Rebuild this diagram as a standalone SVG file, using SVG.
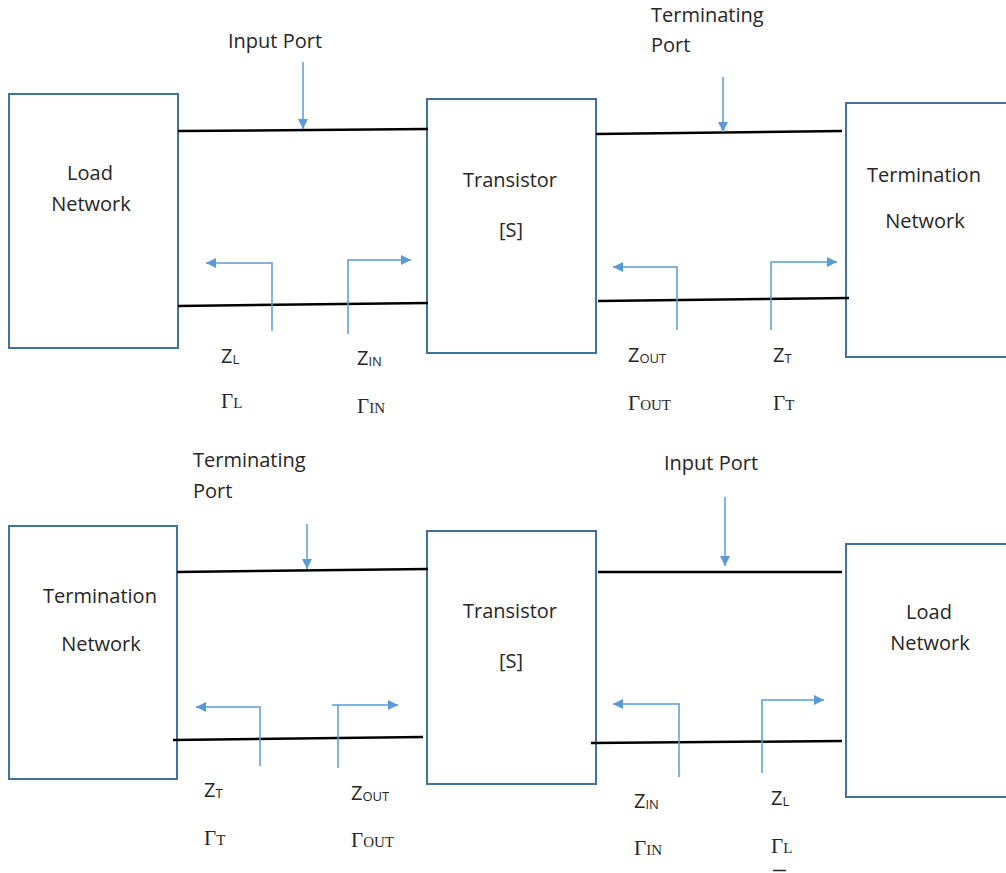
<svg xmlns="http://www.w3.org/2000/svg" width="1006" height="873" viewBox="0 0 1006 873">
  <style>
    .box { fill: #ffffff; stroke: #41719C; stroke-width: 2; }
    .lbl { font-family: "Open Sans", "Noto Sans", sans-serif; font-size: 20px; fill: #262626; }
    .mid { text-anchor: middle; }
    .wire { stroke: #000000; stroke-width: 2.5; fill: none; }
    .ref { stroke: #5B9BD5; stroke-width: 1.5; fill: none; marker-end: url(#ah); }
    .tick { stroke: #5B9BD5; stroke-width: 1.5; fill: none; marker-end: url(#ah); }
    .z { font-family: "Open Sans", "Noto Sans", sans-serif; font-size: 20px; fill: #262626; }
    .zs { font-size: 13px; }
    .g { font-family: "Liberation Serif", "Times New Roman", serif; font-size: 21px; fill: #262626; }
    .gs { font-size: 15px; }
  </style>
  <defs>
    <marker id="ah" viewBox="0 0 10 10" refX="10" refY="5" markerWidth="11" markerHeight="10" markerUnits="userSpaceOnUse" orient="auto">
      <path d="M0,0 L10,5 L0,10 z" fill="#5B9BD5"/>
    </marker>
  </defs>

  <rect width="1006" height="873" fill="#ffffff"/>

  <!-- upper chain: load network, transistor, termination network -->
  <g id="load-network-top">
    <rect class="box" x="9" y="94" width="169" height="254"/>
    <text class="lbl mid" x="90" y="180">Load</text>
    <text class="lbl mid" x="91" y="211">Network</text>
  </g>
  <g id="transistor-top">
    <rect class="box" x="427" y="99" width="169" height="254"/>
    <text class="lbl mid" x="510" y="187">Transistor</text>
    <text class="lbl mid" x="511" y="237">[S]</text>
  </g>
  <g id="termination-network-top">
    <rect class="box" x="846" y="103" width="200" height="254"/>
    <text class="lbl mid" x="924" y="182">Termination</text>
    <text class="lbl mid" x="925" y="228">Network</text>
  </g>

  <!-- lower chain: termination network, transistor, load network -->
  <g id="termination-network-bottom">
    <rect class="box" x="9" y="526" width="168" height="253"/>
    <text class="lbl mid" x="100" y="603">Termination</text>
    <text class="lbl mid" x="101" y="651">Network</text>
  </g>
  <g id="transistor-bottom">
    <rect class="box" x="427" y="531" width="169" height="253"/>
    <text class="lbl mid" x="510" y="618">Transistor</text>
    <text class="lbl mid" x="511" y="668">[S]</text>
  </g>
  <g id="load-network-bottom">
    <rect class="box" x="846" y="544" width="200" height="253"/>
    <text class="lbl mid" x="929" y="619">Load</text>
    <text class="lbl mid" x="930" y="650">Network</text>
  </g>

  <g id="connectors">
    <!-- transmission lines, upper chain -->
    <path class="wire" d="M178,131 L428,129"/>
    <path class="wire" d="M178,306 L428,303"/>
    <path class="wire" d="M596,134 L842,131"/>
    <path class="wire" d="M598,301 L849,298"/>
    <!-- transmission lines, lower chain -->
    <path class="wire" d="M177,572 L428,569"/>
    <path class="wire" d="M173,740 L423,737"/>
    <path class="wire" d="M598,572 L842,572"/>
    <path class="wire" d="M591,743 L842,741"/>

    <!-- port pointers -->
    <path class="tick" d="M303,62 L303,129"/>
    <path class="tick" d="M723,77 L723,132"/>
    <path class="tick" d="M307,524 L307,569"/>
    <path class="tick" d="M725,497 L725,566"/>

    <!-- reference planes, upper chain -->
    <path class="ref" d="M272,331 L272,263 L206,263"/>
    <path class="ref" d="M348,334 L348,260 L411,260"/>
    <path class="ref" d="M677,330 L677,267 L613,267"/>
    <path class="ref" d="M771,330 L771,262 L837,262"/>
    <!-- reference planes, lower chain -->
    <path class="ref" d="M260,766 L260,707 L196,707"/>
    <path class="ref" d="M338,768 L338,705 L332,705 L398,705"/>
    <path class="ref" d="M679,777 L679,704 L613,704"/>
    <path class="ref" d="M762,773 L762,700 L824,700"/>
  </g>

  <g id="port-labels">
    <text class="lbl" x="228" y="48">Input Port</text>
    <text class="lbl" x="651" y="22">Terminating</text>
    <text class="lbl" x="651" y="52">Port</text>
    <text class="lbl" x="193" y="467">Terminating</text>
    <text class="lbl" x="193" y="498">Port</text>
    <text class="lbl" x="664" y="470">Input Port</text>
  </g>

  <g id="impedance-labels">
    <text class="z" x="221" y="363">Z<tspan class="zs" dy="1">L</tspan></text>
    <text class="g" x="221" y="408">Γ<tspan class="gs">L</tspan></text>
    <text class="z" x="357" y="365">Z<tspan class="zs" dy="1">IN</tspan></text>
    <text class="g" x="357" y="413">Γ<tspan class="gs">IN</tspan></text>
    <text class="z" x="628" y="362">Z<tspan class="zs" dy="1">OUT</tspan></text>
    <text class="g" x="628" y="410">Γ<tspan class="gs">OUT</tspan></text>
    <text class="z" x="773" y="362">Z<tspan class="zs" dy="1">T</tspan></text>
    <text class="g" x="773" y="410">Γ<tspan class="gs">T</tspan></text>

    <text class="z" x="204" y="797">Z<tspan class="zs" dy="1">T</tspan></text>
    <text class="g" x="204" y="845">Γ<tspan class="gs">T</tspan></text>
    <text class="z" x="351" y="800">Z<tspan class="zs" dy="1">OUT</tspan></text>
    <text class="g" x="351" y="847">Γ<tspan class="gs">OUT</tspan></text>
    <text class="z" x="634" y="808">Z<tspan class="zs" dy="1">IN</tspan></text>
    <text class="g" x="634" y="855">Γ<tspan class="gs">IN</tspan></text>
    <text class="z" x="771" y="805">Z<tspan class="zs" dy="1">L</tspan></text>
    <text class="g" x="771" y="853">Γ<tspan class="gs">L</tspan></text>
    <!-- stray stroke at the lower edge -->
    <path d="M773,870.5 L786,870.5" stroke="#262626" stroke-width="1.5"/>
  </g>
</svg>
